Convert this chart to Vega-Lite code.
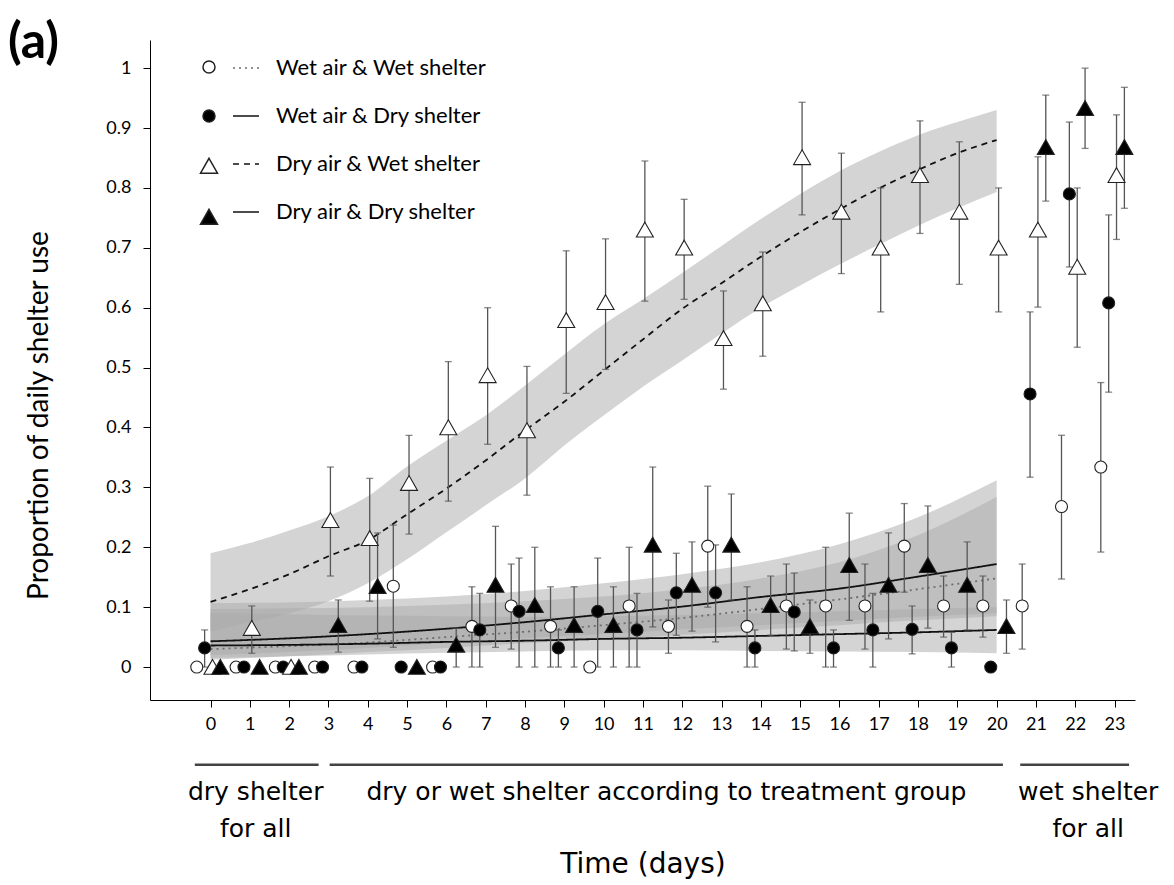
{
  "$schema": "https://vega.github.io/schema/vega-lite/v6.json",
  "width": 985,
  "height": 660,
  "autosize": {"type": "none"},
  "padding": {"left": 150, "top": 40, "right": 39, "bottom": 185},
  "background": "white",
  "config": {
    "view": {"stroke": null},
    "font": "Lato",
    "axis": {"labelFont": "Lato", "titleFont": "Lato", "labelColor": "black", "titleColor": "black", "titleFontWeight": "normal", "domainColor": "black", "tickColor": "black", "grid": false}
  },
  "title": {"text": "(a)", "anchor": "start", "frame": "group", "fontSize": 50, "fontWeight": "bold", "font": "Lato", "color": "black", "baseline": "alphabetic", "offset": -51, "dx": -142, "dy": 17},
  "datasets": {
    "points": [
      {"d": 0, "g": "Wet air & Wet shelter", "p": 0},
      {"d": 1, "g": "Wet air & Wet shelter", "p": 0},
      {"d": 2, "g": "Wet air & Wet shelter", "p": 0},
      {"d": 3, "g": "Wet air & Wet shelter", "p": 0},
      {"d": 4, "g": "Wet air & Wet shelter", "p": 0},
      {"d": 5, "g": "Wet air & Wet shelter", "p": 0.135, "lo": 0.033, "hi": 0.237},
      {"d": 6, "g": "Wet air & Wet shelter", "p": 0},
      {"d": 7, "g": "Wet air & Wet shelter", "p": 0.068, "lo": 0, "hi": 0.134},
      {"d": 8, "g": "Wet air & Wet shelter", "p": 0.102, "lo": 0.03, "hi": 0.172},
      {"d": 9, "g": "Wet air & Wet shelter", "p": 0.068, "lo": 0, "hi": 0.134},
      {"d": 10, "g": "Wet air & Wet shelter", "p": 0},
      {"d": 11, "g": "Wet air & Wet shelter", "p": 0.102, "lo": 0, "hi": 0.2},
      {"d": 12, "g": "Wet air & Wet shelter", "p": 0.068, "lo": 0.023, "hi": 0.112},
      {"d": 13, "g": "Wet air & Wet shelter", "p": 0.202, "lo": 0.1, "hi": 0.302},
      {"d": 14, "g": "Wet air & Wet shelter", "p": 0.068, "lo": 0, "hi": 0.134},
      {"d": 15, "g": "Wet air & Wet shelter", "p": 0.102, "lo": 0.03, "hi": 0.172},
      {"d": 16, "g": "Wet air & Wet shelter", "p": 0.102, "lo": 0, "hi": 0.2},
      {"d": 17, "g": "Wet air & Wet shelter", "p": 0.102, "lo": 0.03, "hi": 0.172},
      {"d": 18, "g": "Wet air & Wet shelter", "p": 0.202, "lo": 0.125, "hi": 0.273},
      {"d": 19, "g": "Wet air & Wet shelter", "p": 0.102, "lo": 0.05, "hi": 0.152},
      {"d": 20, "g": "Wet air & Wet shelter", "p": 0.102, "lo": 0.05, "hi": 0.152},
      {"d": 21, "g": "Wet air & Wet shelter", "p": 0.102, "lo": 0.03, "hi": 0.172},
      {"d": 22, "g": "Wet air & Wet shelter", "p": 0.268, "lo": 0.147, "hi": 0.387},
      {"d": 23, "g": "Wet air & Wet shelter", "p": 0.334, "lo": 0.192, "hi": 0.475},
      {"d": 0, "g": "Wet air & Dry shelter", "p": 0.032, "lo": 0, "hi": 0.062},
      {"d": 1, "g": "Wet air & Dry shelter", "p": 0},
      {"d": 2, "g": "Wet air & Dry shelter", "p": 0},
      {"d": 3, "g": "Wet air & Dry shelter", "p": 0},
      {"d": 4, "g": "Wet air & Dry shelter", "p": 0},
      {"d": 5, "g": "Wet air & Dry shelter", "p": 0},
      {"d": 6, "g": "Wet air & Dry shelter", "p": 0},
      {"d": 7, "g": "Wet air & Dry shelter", "p": 0.062, "lo": 0, "hi": 0.123},
      {"d": 8, "g": "Wet air & Dry shelter", "p": 0.093, "lo": 0, "hi": 0.182},
      {"d": 9, "g": "Wet air & Dry shelter", "p": 0.032, "lo": 0, "hi": 0.062},
      {"d": 10, "g": "Wet air & Dry shelter", "p": 0.093, "lo": 0, "hi": 0.182},
      {"d": 11, "g": "Wet air & Dry shelter", "p": 0.062, "lo": 0, "hi": 0.123},
      {"d": 12, "g": "Wet air & Dry shelter", "p": 0.124, "lo": 0.053, "hi": 0.19},
      {"d": 13, "g": "Wet air & Dry shelter", "p": 0.124, "lo": 0.042, "hi": 0.204},
      {"d": 14, "g": "Wet air & Dry shelter", "p": 0.032, "lo": 0, "hi": 0.062},
      {"d": 15, "g": "Wet air & Dry shelter", "p": 0.092, "lo": 0.027, "hi": 0.157},
      {"d": 16, "g": "Wet air & Dry shelter", "p": 0.032, "lo": 0, "hi": 0.062},
      {"d": 17, "g": "Wet air & Dry shelter", "p": 0.062, "lo": 0, "hi": 0.123},
      {"d": 18, "g": "Wet air & Dry shelter", "p": 0.063, "lo": 0.022, "hi": 0.102},
      {"d": 19, "g": "Wet air & Dry shelter", "p": 0.032, "lo": 0, "hi": 0.058},
      {"d": 20, "g": "Wet air & Dry shelter", "p": 0},
      {"d": 21, "g": "Wet air & Dry shelter", "p": 0.456, "lo": 0.317, "hi": 0.593},
      {"d": 22, "g": "Wet air & Dry shelter", "p": 0.79, "lo": 0.668, "hi": 0.91},
      {"d": 23, "g": "Wet air & Dry shelter", "p": 0.608, "lo": 0.459, "hi": 0.755},
      {"d": 0, "g": "Dry air & Wet shelter", "p": 0},
      {"d": 1, "g": "Dry air & Wet shelter", "p": 0.065, "lo": 0.023, "hi": 0.102},
      {"d": 2, "g": "Dry air & Wet shelter", "p": 0},
      {"d": 3, "g": "Dry air & Wet shelter", "p": 0.245, "lo": 0.152, "hi": 0.334},
      {"d": 4, "g": "Dry air & Wet shelter", "p": 0.215, "lo": 0.11, "hi": 0.315},
      {"d": 5, "g": "Dry air & Wet shelter", "p": 0.307, "lo": 0.222, "hi": 0.387},
      {"d": 6, "g": "Dry air & Wet shelter", "p": 0.4, "lo": 0.277, "hi": 0.51},
      {"d": 7, "g": "Dry air & Wet shelter", "p": 0.487, "lo": 0.372, "hi": 0.6},
      {"d": 8, "g": "Dry air & Wet shelter", "p": 0.395, "lo": 0.287, "hi": 0.502},
      {"d": 9, "g": "Dry air & Wet shelter", "p": 0.579, "lo": 0.457, "hi": 0.695},
      {"d": 10, "g": "Dry air & Wet shelter", "p": 0.609, "lo": 0.497, "hi": 0.715},
      {"d": 11, "g": "Dry air & Wet shelter", "p": 0.73, "lo": 0.611, "hi": 0.845},
      {"d": 12, "g": "Dry air & Wet shelter", "p": 0.7, "lo": 0.614, "hi": 0.781},
      {"d": 13, "g": "Dry air & Wet shelter", "p": 0.549, "lo": 0.464, "hi": 0.628},
      {"d": 14, "g": "Dry air & Wet shelter", "p": 0.607, "lo": 0.519, "hi": 0.693},
      {"d": 15, "g": "Dry air & Wet shelter", "p": 0.851, "lo": 0.755, "hi": 0.943},
      {"d": 16, "g": "Dry air & Wet shelter", "p": 0.76, "lo": 0.657, "hi": 0.858},
      {"d": 17, "g": "Dry air & Wet shelter", "p": 0.7, "lo": 0.593, "hi": 0.8},
      {"d": 18, "g": "Dry air & Wet shelter", "p": 0.821, "lo": 0.724, "hi": 0.912},
      {"d": 19, "g": "Dry air & Wet shelter", "p": 0.76, "lo": 0.639, "hi": 0.877},
      {"d": 20, "g": "Dry air & Wet shelter", "p": 0.7, "lo": 0.593, "hi": 0.8},
      {"d": 21, "g": "Dry air & Wet shelter", "p": 0.73, "lo": 0.601, "hi": 0.852},
      {"d": 22, "g": "Dry air & Wet shelter", "p": 0.668, "lo": 0.534, "hi": 0.8},
      {"d": 23, "g": "Dry air & Wet shelter", "p": 0.821, "lo": 0.714, "hi": 0.922},
      {"d": 0, "g": "Dry air & Dry shelter", "p": 0},
      {"d": 1, "g": "Dry air & Dry shelter", "p": 0},
      {"d": 2, "g": "Dry air & Dry shelter", "p": 0},
      {"d": 3, "g": "Dry air & Dry shelter", "p": 0.07, "lo": 0.025, "hi": 0.112},
      {"d": 4, "g": "Dry air & Dry shelter", "p": 0.135, "lo": 0.047, "hi": 0.224},
      {"d": 5, "g": "Dry air & Dry shelter", "p": 0},
      {"d": 6, "g": "Dry air & Dry shelter", "p": 0.037, "lo": 0, "hi": 0.065},
      {"d": 7, "g": "Dry air & Dry shelter", "p": 0.137, "lo": 0.033, "hi": 0.235},
      {"d": 8, "g": "Dry air & Dry shelter", "p": 0.103, "lo": 0, "hi": 0.2},
      {"d": 9, "g": "Dry air & Dry shelter", "p": 0.07, "lo": 0, "hi": 0.134},
      {"d": 10, "g": "Dry air & Dry shelter", "p": 0.07, "lo": 0, "hi": 0.134},
      {"d": 11, "g": "Dry air & Dry shelter", "p": 0.204, "lo": 0.067, "hi": 0.334},
      {"d": 12, "g": "Dry air & Dry shelter", "p": 0.137, "lo": 0.06, "hi": 0.209},
      {"d": 13, "g": "Dry air & Dry shelter", "p": 0.204, "lo": 0.112, "hi": 0.289},
      {"d": 14, "g": "Dry air & Dry shelter", "p": 0.103, "lo": 0.052, "hi": 0.152},
      {"d": 15, "g": "Dry air & Dry shelter", "p": 0.068, "lo": 0.023, "hi": 0.112},
      {"d": 16, "g": "Dry air & Dry shelter", "p": 0.17, "lo": 0.078, "hi": 0.257},
      {"d": 17, "g": "Dry air & Dry shelter", "p": 0.137, "lo": 0.047, "hi": 0.224},
      {"d": 18, "g": "Dry air & Dry shelter", "p": 0.17, "lo": 0.065, "hi": 0.269},
      {"d": 19, "g": "Dry air & Dry shelter", "p": 0.137, "lo": 0.062, "hi": 0.209},
      {"d": 20, "g": "Dry air & Dry shelter", "p": 0.068, "lo": 0.023, "hi": 0.112},
      {"d": 21, "g": "Dry air & Dry shelter", "p": 0.868, "lo": 0.778, "hi": 0.955},
      {"d": 22, "g": "Dry air & Dry shelter", "p": 0.933, "lo": 0.866, "hi": 1.0},
      {"d": 23, "g": "Dry air & Dry shelter", "p": 0.868, "lo": 0.766, "hi": 0.968}
    ],
    "curves": [
      {"d": 0, "s": "DW", "fit": 0.109, "lo": 0.06, "hi": 0.19},
      {"d": 1, "s": "DW", "fit": 0.13, "lo": 0.075, "hi": 0.207},
      {"d": 2, "s": "DW", "fit": 0.155, "lo": 0.09, "hi": 0.228},
      {"d": 3, "s": "DW", "fit": 0.185, "lo": 0.11, "hi": 0.252},
      {"d": 4, "s": "DW", "fit": 0.212, "lo": 0.14, "hi": 0.285},
      {"d": 5, "s": "DW", "fit": 0.255, "lo": 0.18, "hi": 0.335},
      {"d": 6, "s": "DW", "fit": 0.298, "lo": 0.225, "hi": 0.378},
      {"d": 7, "s": "DW", "fit": 0.345, "lo": 0.27, "hi": 0.42},
      {"d": 8, "s": "DW", "fit": 0.395, "lo": 0.315, "hi": 0.47},
      {"d": 9, "s": "DW", "fit": 0.443, "lo": 0.37, "hi": 0.522},
      {"d": 10, "s": "DW", "fit": 0.495, "lo": 0.42, "hi": 0.572},
      {"d": 11, "s": "DW", "fit": 0.547, "lo": 0.468, "hi": 0.614},
      {"d": 12, "s": "DW", "fit": 0.598, "lo": 0.512, "hi": 0.658},
      {"d": 13, "s": "DW", "fit": 0.641, "lo": 0.557, "hi": 0.703},
      {"d": 14, "s": "DW", "fit": 0.685, "lo": 0.6, "hi": 0.748},
      {"d": 15, "s": "DW", "fit": 0.726, "lo": 0.637, "hi": 0.79},
      {"d": 16, "s": "DW", "fit": 0.764, "lo": 0.672, "hi": 0.828},
      {"d": 17, "s": "DW", "fit": 0.799, "lo": 0.705, "hi": 0.86},
      {"d": 18, "s": "DW", "fit": 0.83, "lo": 0.737, "hi": 0.888},
      {"d": 19, "s": "DW", "fit": 0.858, "lo": 0.766, "hi": 0.91},
      {"d": 20, "s": "DW", "fit": 0.88, "lo": 0.793, "hi": 0.93},
      {"d": 0, "s": "DD", "fit": 0.043, "lo": 0.02, "hi": 0.107},
      {"d": 2, "s": "DD", "fit": 0.048, "lo": 0.025, "hi": 0.108},
      {"d": 4, "s": "DD", "fit": 0.055, "lo": 0.032, "hi": 0.112},
      {"d": 6, "s": "DD", "fit": 0.064, "lo": 0.04, "hi": 0.118},
      {"d": 8, "s": "DD", "fit": 0.075, "lo": 0.048, "hi": 0.127},
      {"d": 10, "s": "DD", "fit": 0.088, "lo": 0.055, "hi": 0.14},
      {"d": 12, "s": "DD", "fit": 0.101, "lo": 0.063, "hi": 0.155},
      {"d": 14, "s": "DD", "fit": 0.117, "lo": 0.07, "hi": 0.175},
      {"d": 16, "s": "DD", "fit": 0.131, "lo": 0.077, "hi": 0.205},
      {"d": 18, "s": "DD", "fit": 0.151, "lo": 0.084, "hi": 0.25},
      {"d": 20, "s": "DD", "fit": 0.172, "lo": 0.09, "hi": 0.312},
      {"d": 0, "s": "WW", "fit": 0.03, "lo": 0.012, "hi": 0.097},
      {"d": 2, "s": "WW", "fit": 0.035, "lo": 0.018, "hi": 0.098},
      {"d": 4, "s": "WW", "fit": 0.041, "lo": 0.025, "hi": 0.1},
      {"d": 6, "s": "WW", "fit": 0.05, "lo": 0.032, "hi": 0.104},
      {"d": 8, "s": "WW", "fit": 0.059, "lo": 0.04, "hi": 0.11},
      {"d": 10, "s": "WW", "fit": 0.07, "lo": 0.046, "hi": 0.118},
      {"d": 12, "s": "WW", "fit": 0.082, "lo": 0.054, "hi": 0.13},
      {"d": 14, "s": "WW", "fit": 0.097, "lo": 0.062, "hi": 0.148},
      {"d": 16, "s": "WW", "fit": 0.113, "lo": 0.07, "hi": 0.175},
      {"d": 18, "s": "WW", "fit": 0.13, "lo": 0.078, "hi": 0.22},
      {"d": 20, "s": "WW", "fit": 0.148, "lo": 0.085, "hi": 0.284},
      {"d": 0, "s": "WD", "fit": 0.036, "lo": 0.015, "hi": 0.09},
      {"d": 2, "s": "WD", "fit": 0.037, "lo": 0.018, "hi": 0.088},
      {"d": 4, "s": "WD", "fit": 0.039, "lo": 0.021, "hi": 0.086},
      {"d": 6, "s": "WD", "fit": 0.042, "lo": 0.024, "hi": 0.085},
      {"d": 8, "s": "WD", "fit": 0.044, "lo": 0.026, "hi": 0.084},
      {"d": 10, "s": "WD", "fit": 0.047, "lo": 0.028, "hi": 0.085},
      {"d": 12, "s": "WD", "fit": 0.049, "lo": 0.028, "hi": 0.087},
      {"d": 14, "s": "WD", "fit": 0.052, "lo": 0.027, "hi": 0.09},
      {"d": 16, "s": "WD", "fit": 0.055, "lo": 0.026, "hi": 0.093},
      {"d": 18, "s": "WD", "fit": 0.058, "lo": 0.025, "hi": 0.097},
      {"d": 20, "s": "WD", "fit": 0.062, "lo": 0.023, "hi": 0.1}
    ],
    "phases": [
      {"a": -0.4, "b": 2.75, "m": 1.15, "label": "dry shelter\nfor all"},
      {"a": 3.03, "b": 20.16, "m": 11.6, "label": "dry or wet shelter according to treatment group"},
      {"a": 20.6, "b": 23.37, "m": 22.33, "label": "wet shelter\nfor all"}
    ]
  },
  "encoding": {
    "x": {"type": "quantitative", "scale": {"domain": [-1.54, 23.52], "nice": false, "zero": false}},
    "y": {"type": "quantitative", "scale": {"domain": [-0.055, 1.047], "nice": false, "zero": false}}
  },
  "layer": [
    {
      "data": {"name": "curves"},
      "transform": [{"filter": "datum.s == 'DW'"}],
      "mark": {"type": "area", "fill": "#d4d4d4", "opacity": 1, "interpolate": "monotone"},
      "encoding": {
        "x": {"field": "d", "type": "quantitative", "axis": {"values": [0,1,2,3,4,5,6,7,8,9,10,11,12,13,14,15,16,17,18,19,20,21,22,23], "title": "Time (days)", "titleFont": "DejaVu Sans", "titleFontSize": 28, "titlePadding": 117, "labelFontSize": 18, "labelPadding": 8, "tickSize": 7, "labelOverlap": false, "labelFlush": false}},
        "y": {"field": "lo", "type": "quantitative", "axis": {"values": [0,0.1,0.2,0.3,0.4,0.5,0.6,0.7,0.8,0.9,1], "format": "~g", "title": "Proportion of daily shelter use", "titleFontSize": 28, "titlePadding": 52, "titleY": 375, "labelFontSize": 18, "labelPadding": 12, "tickSize": 7}},
        "y2": {"field": "hi"}
      }
    },
    {
      "data": {"name": "curves"},
      "transform": [{"filter": "datum.s != 'DW'"}],
      "mark": {"type": "area", "fill": "#a9a9a9", "opacity": 0.5, "interpolate": "monotone"},
      "encoding": {
        "x": {"field": "d", "type": "quantitative"},
        "y": {"field": "lo", "type": "quantitative"},
        "y2": {"field": "hi"},
        "detail": {"field": "s", "type": "nominal"}
      }
    },
    {
      "data": {"name": "curves"},
      "mark": {"type": "line", "strokeWidth": 1.8, "interpolate": "monotone"},
      "encoding": {
        "x": {"field": "d", "type": "quantitative"},
        "y": {"field": "fit", "type": "quantitative"},
        "stroke": {"field": "s", "type": "nominal", "scale": {"domain": ["WW", "WD", "DW", "DD"], "range": ["#6e6e6e", "#111111", "#111111", "#111111"]},
          "legend": {"title": null, "orient": "none", "legendX": 82, "legendY": 14, "symbolType": "stroke", "symbolSize": 676, "symbolStrokeWidth": 1.6, "labelOffset": 16, "labelFontSize": 22, "labelFont": "Lato", "labelColor": "black", "labelLimit": 0, "rowPadding": 23, "padding": 0, "labelExpr": "{'WW': 'Wet air & Wet shelter', 'WD': 'Wet air & Dry shelter', 'DW': 'Dry air & Wet shelter', 'DD': 'Dry air & Dry shelter'}[datum.label]"}},
        "strokeDash": {"field": "s", "type": "nominal", "scale": {"domain": ["WW", "WD", "DW", "DD"], "range": [[2, 4], [1, 0], [6, 5], [1, 0]]},
          "legend": {"title": null, "orient": "none", "legendX": 82, "legendY": 14, "symbolType": "stroke", "symbolSize": 676, "symbolStrokeWidth": 1.6, "labelOffset": 16, "labelFontSize": 22, "labelFont": "Lato", "labelColor": "black", "labelLimit": 0, "rowPadding": 23, "padding": 0, "labelExpr": "{'WW': 'Wet air & Wet shelter', 'WD': 'Wet air & Dry shelter', 'DW': 'Dry air & Wet shelter', 'DD': 'Dry air & Dry shelter'}[datum.label]"}}
      }
    },
    {
      "data": {"name": "points"},
      "transform": [{"calculate": "datum.d + indexof(['Wet air & Wet shelter', 'Wet air & Dry shelter', 'Dry air & Wet shelter', 'Dry air & Dry shelter'], datum.g) * 0.2 - 0.35", "as": "t"}],
      "layer": [
        {
          "transform": [{"filter": "isValid(datum.lo)"}],
          "mark": {"type": "rule", "color": "#555555", "strokeWidth": 1.3},
          "encoding": {
            "x": {"field": "t", "type": "quantitative"},
            "y": {"field": "lo", "type": "quantitative"},
            "y2": {"field": "hi"}
          }
        },
        {
          "transform": [{"filter": "isValid(datum.lo)"}],
          "mark": {"type": "tick", "orient": "horizontal", "size": 7, "thickness": 1.3, "color": "#555555"},
          "encoding": {
            "x": {"field": "t", "type": "quantitative"},
            "y": {"field": "lo", "type": "quantitative"}
          }
        },
        {
          "transform": [{"filter": "isValid(datum.hi)"}],
          "mark": {"type": "tick", "orient": "horizontal", "size": 7, "thickness": 1.3, "color": "#555555"},
          "encoding": {
            "x": {"field": "t", "type": "quantitative"},
            "y": {"field": "hi", "type": "quantitative"}
          }
        },
        {
          "mark": {"type": "point", "filled": true, "stroke": "#222222", "strokeWidth": 1.1, "opacity": 1, "size": 324},
          "encoding": {
            "x": {"field": "t", "type": "quantitative"},
            "y": {"field": "p", "type": "quantitative"},
            "shape": {"field": "g", "type": "nominal", "scale": {"domain": ["Wet air & Wet shelter", "Wet air & Dry shelter", "Dry air & Wet shelter", "Dry air & Dry shelter"], "range": ["M0,-0.667A0.667,0.667,0,1,1,0,0.667A0.667,0.667,0,1,1,0,-0.667Z", "M0,-0.667A0.667,0.667,0,1,1,0,0.667A0.667,0.667,0,1,1,0,-0.667Z", "M0,-0.85L0.944,0.8L-0.944,0.8Z", "M0,-0.85L0.944,0.8L-0.944,0.8Z"]},
              "legend": {"title": null, "orient": "none", "legendX": 49, "legendY": 17, "labelExpr": "''", "labelFontSize": 20, "rowPadding": 29, "padding": 0, "symbolSize": 324,
                "encode": {"symbols": {"update": {"stroke": {"value": "#222222"}, "strokeWidth": {"value": 1.1}}}}}},
            "fill": {"field": "g", "type": "nominal", "scale": {"domain": ["Wet air & Wet shelter", "Wet air & Dry shelter", "Dry air & Wet shelter", "Dry air & Dry shelter"], "range": ["white", "black", "white", "black"]},
              "legend": {"title": null, "orient": "none", "legendX": 49, "legendY": 17, "labelExpr": "''", "labelFontSize": 20, "rowPadding": 29, "padding": 0, "symbolSize": 324,
                "encode": {"symbols": {"update": {"stroke": {"value": "#222222"}, "strokeWidth": {"value": 1.1}}}}}}
          }
        }
      ]
    },
    {
      "data": {"name": "phases"},
      "mark": {"type": "rule", "color": "#444444", "strokeWidth": 2.5},
      "encoding": {
        "x": {"field": "a", "type": "quantitative"},
        "x2": {"field": "b"},
        "y": {"datum": -0.163}
      }
    },
    {
      "data": {"name": "phases"},
      "mark": {"type": "text", "font": "DejaVu Sans", "fontSize": 25, "color": "black", "align": "center", "baseline": "alphabetic", "lineBreak": "\n", "lineHeight": 37},
      "encoding": {
        "x": {"field": "m", "type": "quantitative"},
        "y": {"datum": -0.222},
        "text": {"field": "label"}
      }
    }
  ]
}
